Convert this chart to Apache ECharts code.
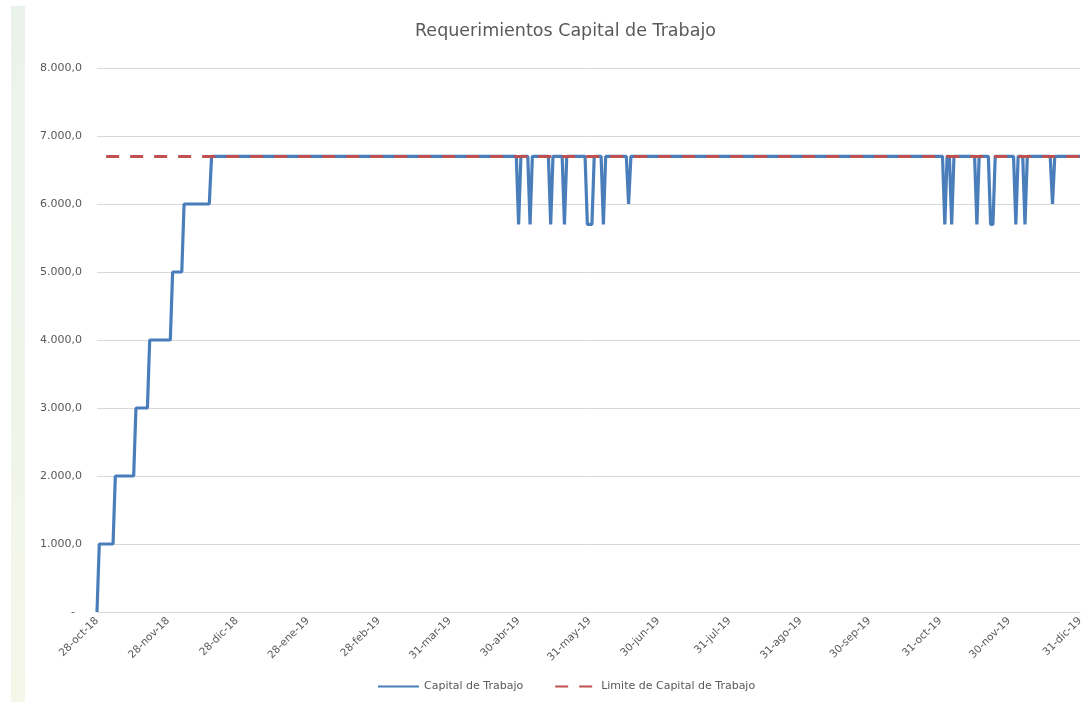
<!DOCTYPE html>
<html>
<head>
<meta charset="utf-8">
<script src="https://cdn.jsdelivr.net/npm/echarts@6/dist/echarts.min.js"></script>
<style>
html, body { margin: 0; padding: 0; background: #fff; }
#main { width: 1087px; height: 702px; }
</style>
</head>
<body>
<div id="main"></div>
<script>
var titleText = 'Requerimientos Capital de Trabajo';
var seriesNames = ['Capital de Trabajo', 'Limite de Capital de Trabajo'];
var startDate = '2018-10-28';
var endDate = '2019-12-31';

// vertices of the capital line (date, value)
var capitalDates = [
  '2018-10-28', '2018-10-29', '2018-11-04', '2018-11-05', '2018-11-13', '2018-11-14',
  '2018-11-19', '2018-11-20', '2018-11-29', '2018-11-30', '2018-12-04', '2018-12-05',
  '2018-12-16', '2018-12-17',
  '2019-04-29', '2019-04-30', '2019-05-01', '2019-05-04', '2019-05-05', '2019-05-06',
  '2019-05-13', '2019-05-14', '2019-05-15', '2019-05-19', '2019-05-20', '2019-05-21',
  '2019-05-29', '2019-05-30', '2019-06-01', '2019-06-02', '2019-06-05', '2019-06-06',
  '2019-06-07', '2019-06-16', '2019-06-17', '2019-06-18',
  '2019-11-01', '2019-11-02', '2019-11-03', '2019-11-04', '2019-11-05', '2019-11-06',
  '2019-11-15', '2019-11-16', '2019-11-17', '2019-11-21', '2019-11-22', '2019-11-23',
  '2019-11-24', '2019-12-02', '2019-12-03', '2019-12-04', '2019-12-06', '2019-12-07',
  '2019-12-08', '2019-12-18', '2019-12-19', '2019-12-20', '2019-12-31'
];
var capitalValues = [
  0, 1000, 1000, 2000, 2000, 3000,
  3000, 4000, 4000, 5000, 5000, 6000,
  6000, 6700,
  6700, 5700, 6700, 6700, 5700, 6700,
  6700, 5700, 6700, 6700, 5700, 6700,
  6700, 5700, 5700, 6700, 6700, 5700,
  6700, 6700, 6000, 6700,
  6700, 5700, 6700, 6700, 5700, 6700,
  6700, 5700, 6700, 6700, 5700, 5700,
  6700, 6700, 5700, 6700, 6700, 5700,
  6700, 6700, 6000, 6700, 6700
];

var limitDates = ['2018-11-01', '2019-12-31'];
var limitValues = [6700, 6700];

var tickDates = [
  '2018-10-28', '2018-11-28', '2018-12-28', '2019-01-28', '2019-02-28', '2019-03-31',
  '2019-04-30', '2019-05-31', '2019-06-30', '2019-07-31', '2019-08-31', '2019-09-30',
  '2019-10-31', '2019-11-30', '2019-12-31'
];
var tickLabels = [
  '28-oct-18', '28-nov-18', '28-dic-18', '28-ene-19', '28-feb-19', '31-mar-19',
  '30-abr-19', '31-may-19', '30-jun-19', '31-jul-19', '31-ago-19', '30-sep-19',
  '31-oct-19', '30-nov-19', '31-dic-19'
];

var textColor = '#595959';
var font = 'DejaVu Sans';

// day number counted from the first date, so the x axis is a plain day scale
function dayOf(s) {
  var p = s.split('-');
  var a = startDate.split('-');
  return Math.round((Date.UTC(+p[0], +p[1] - 1, +p[2]) - Date.UTC(+a[0], +a[1] - 1, +a[2])) / 86400000);
}

function pairs(dates, values) {
  return dates.map(function (d, i) { return [dayOf(d), values[i]]; });
}

function yLabel(v) {
  if (v === 0) return '-  ';
  return String(v).replace(/\B(?=(\d{3})+(?!\d))/g, '.') + ',0';
}

var tickDays = tickDates.map(dayOf);

var chart = echarts.init(document.getElementById('main'));

var option = {
  animation: false,
  backgroundColor: '#ffffff',
  graphic: [{
    type: 'rect',
    shape: { x: 11, y: 6, width: 14, height: 696 },
    style: {
      fill: new echarts.graphic.LinearGradient(0, 0, 0, 1, [
        { offset: 0, color: '#eaf3eb' },
        { offset: 1, color: '#f5f7e9' }
      ])
    },
    silent: true,
    z: -10
  }],
  title: {
    text: titleText,
    left: 410,
    top: 17,
    textStyle: { fontFamily: font, fontSize: 17.5, fontWeight: 'normal', color: textColor }
  },
  legend: {
    left: 372,
    top: 676,
    itemWidth: 41,
    itemHeight: 14,
    itemGap: 31,
    itemStyle: { opacity: 0 },
    textStyle: { fontFamily: font, fontSize: 11, color: textColor },
    data: seriesNames
  },
  grid: { left: 97, right: 7, top: 68, bottom: 90, containLabel: false },
  xAxis: {
    type: 'value',
    min: dayOf(startDate),
    max: dayOf(endDate),
    axisLine: { show: true, lineStyle: { color: '#d9d9d9', width: 1 } },
    axisTick: { show: false },
    splitLine: { show: false },
    axisLabel: {
      customValues: tickDays,
      rotate: 45,
      margin: 7,
      fontFamily: font,
      fontSize: 10.5,
      color: textColor,
      formatter: function (value) {
        var i = tickDays.indexOf(value);
        return i >= 0 ? tickLabels[i] : '';
      }
    }
  },
  yAxis: {
    type: 'value',
    min: 0,
    max: 8000,
    interval: 1000,
    axisLine: { show: false },
    axisTick: { show: false },
    splitLine: { lineStyle: { color: '#d9d9d9', width: 1 } },
    axisLabel: {
      margin: 15,
      fontFamily: font,
      fontSize: 11,
      color: textColor,
      formatter: yLabel
    }
  },
  series: [{
    name: seriesNames[0],
    type: 'line',
    data: pairs(capitalDates, capitalValues),
    symbol: 'none',
    showSymbol: false,
    lineStyle: { color: '#4a7ebb', width: 3.2 },
    itemStyle: { color: '#4a7ebb' },
    z: 2
  }, {
    name: seriesNames[1],
    type: 'line',
    data: pairs(limitDates, limitValues),
    symbol: 'none',
    showSymbol: false,
    lineStyle: { color: '#c0504d', width: 3, type: [13, 11] },
    itemStyle: { color: '#c0504d' },
    z: 3
  }]
};

chart.setOption(option);
</script>
</body>
</html>
